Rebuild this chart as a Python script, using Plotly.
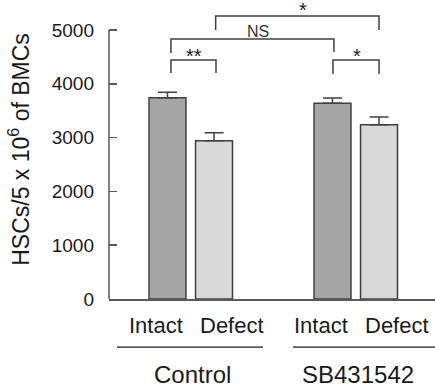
import plotly.graph_objects as go

# ---- data ----
groups = ["Control", "SB431542"]
conditions = ["Intact", "Defect"]
intact_vals = [3740, 3640]
intact_err = [105, 95]
defect_vals = [2940, 3240]
defect_err = [150, 145]
y_ticks = [0, 1000, 2000, 3000, 4000, 5000]

# comparisons: (x_left, x_right, y_bar, y_leg_left, y_leg_right, label, label_y)
comparisons = [
    (-0.12, 0.153, 4442, 4201, 4201, "**", 4509),
    (0.862, 1.141, 4442, 4182, 4182, "*", 4509),
    (-0.12, 0.868, 4833, 4572, 4591, "NS", 4970),
    (0.151, 1.141, 5260, 5000, 5000, "*", 5380),
]
label_x = [0.017, 1.01, 0.41, 0.68]

FONT = "Arial, Liberation Sans, sans-serif"
TXT = "#1a1a1a"
LINE = "#404040"
offset = 0.141
bw = 0.224

fig = go.Figure()
fig.add_trace(go.Bar(
    x=[i - offset for i in range(len(groups))], y=intact_vals, width=bw,
    marker=dict(color="#a6a6a6", line=dict(color=LINE, width=1.5)),
    error_y=dict(type="data", array=intact_err, arrayminus=[0, 0], symmetric=False,
                 color=LINE, thickness=1.5, width=9.5),
    showlegend=False, hoverinfo="skip"))
fig.add_trace(go.Bar(
    x=[i + offset for i in range(len(groups))], y=defect_vals, width=bw,
    marker=dict(color="#d9d9d9", line=dict(color=LINE, width=1.5)),
    error_y=dict(type="data", array=defect_err, arrayminus=[0, 0], symmetric=False,
                 color=LINE, thickness=1.5, width=9.5),
    showlegend=False, hoverinfo="skip"))

shapes = []
annotations = []
# left axis line (0..5000)
shapes.append(dict(type="line", xref="paper", yref="y", x0=0, x1=0, y0=0, y1=5000,
                   line=dict(color="#595959", width=1.5)))
for (xl, xr, yb, yll, ylr, lab, ly), lx in zip(comparisons, label_x):
    shapes.append(dict(type="path", xref="x", yref="y",
                       path=f"M {xl},{yll} L {xl},{yb} L {xr},{yb} L {xr},{ylr}",
                       line=dict(color=LINE, width=1.5)))
    if lab == "NS":
        annotations.append(dict(x=lx, y=ly, xref="x", yref="y", text=lab, showarrow=False,
                                font=dict(family=FONT, size=16, color="#333"),
                                yanchor="middle"))
    else:
        annotations.append(dict(x=lx, y=ly, xref="x", yref="y", text=lab, showarrow=False,
                                font=dict(family=FONT, size=20, color="#222"),
                                yanchor="middle"))

# condition labels and group labels
cond_off = [-0.21, 0.25]
for gi, g in enumerate(groups):
    for ci, c in enumerate(conditions):
        annotations.append(dict(x=gi + cond_off[ci], y=-0.087, xref="x", yref="paper", text=c,
                                showarrow=False, yanchor="middle",
                                font=dict(family=FONT, size=22, color=TXT)))
    annotations.append(dict(x=gi + 0.012, y=-0.251, xref="x", yref="paper", text=g,
                            showarrow=False, yanchor="middle", height=22, valign="middle",
                            font=dict(family=FONT, size=24, color=TXT)))
underlines = [(-0.447, 0.438), (0.62, 1.49)]
for a, b in underlines:
    shapes.append(dict(type="line", xref="x", yref="paper", x0=a, x1=b, y0=-0.161, y1=-0.161,
                       line=dict(color="#595959", width=1.8)))

fig.update_layout(
    width=435, height=386,
    margin=dict(l=109, r=0, t=0, b=87, autoexpand=False),
    paper_bgcolor="white", plot_bgcolor="white",
    barmode="overlay", hovermode=False,
    shapes=shapes, annotations=annotations,
    xaxis=dict(range=[-0.4955, 1.4803], showgrid=False, zeroline=False, automargin=False,
               showline=True, linecolor="#595959", linewidth=1.5,
               showticklabels=False, ticks=""),
    yaxis=dict(range=[0, 5000 * 299 / 269], showgrid=False, zeroline=False, showline=False,
               automargin=False,
               tickvals=y_ticks, ticktext=[str(v) for v in y_ticks],
               ticks="inside", ticklen=8, tickwidth=1.5, tickcolor="#595959",
               ticklabelstandoff=14,
               tickfont=dict(family=FONT, size=19, color=TXT),
               title=dict(text="HSCs/5 x 10<sup>6</sup> of BMCs", standoff=15,
                          font=dict(family=FONT, size=23, color=TXT))),
)
fig.write_html("out.html", config={"displayModeBar": False, "staticPlot": True},
               post_script="document.body.style.margin='0';")
